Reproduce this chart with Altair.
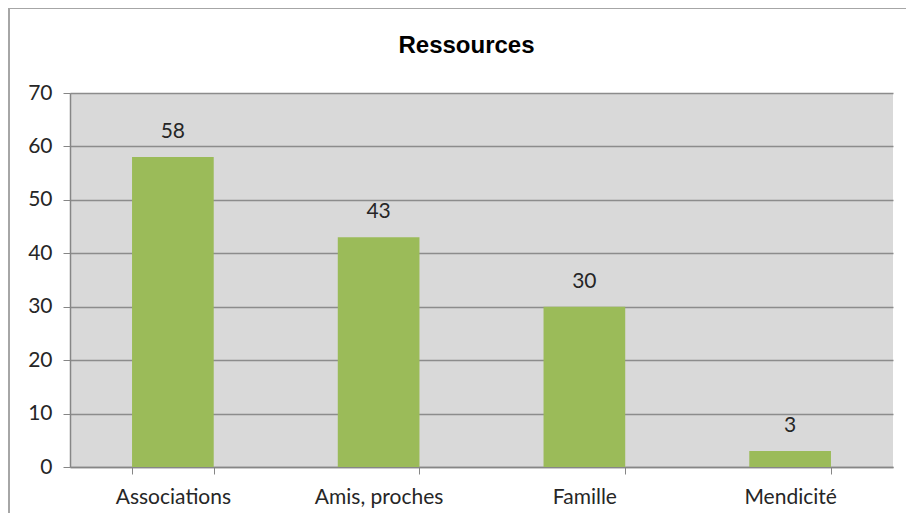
import altair as alt
import pandas as pd

categories = ["Associations", "Amis, proches", "Famille", "Mendicité"]
values = [58, 43, 30, 3]

df = pd.DataFrame({"cat": categories, "val": values})

W, H = 823, 374
FONT = "Lato"
LABEL_COLOR = "#262626"

base = alt.Chart(df)

bars = base.mark_bar(color="#9bbb59").encode(
    x=alt.X(
        "cat:N",
        sort=categories,
        title=None,
        scale=alt.Scale(paddingInner=0.603, paddingOuter=0.3015),
        axis=alt.Axis(
            labelAngle=0,
            labelFont=FONT,
            labelFontSize=21,
            labelColor=LABEL_COLOR,
            labelPadding=12,
            tickBand="extent",
            tickSize=7,
            tickColor="#868686",
            domainColor="#868686",
            domainWidth=1.5,
            grid=False,
        ),
    ),
    y=alt.Y(
        "val:Q",
        title=None,
        scale=alt.Scale(domain=[0, 70], nice=False),
        axis=alt.Axis(
            values=[0, 10, 20, 30, 40, 50, 60, 70],
            labelFont=FONT,
            labelFontSize=21,
            labelColor=LABEL_COLOR,
            labelPadding=11,
            tickSize=7,
            tickColor="#868686",
            domainColor="#868686",
            domainWidth=1.5,
            grid=True,
            gridColor="#8c8c8c",
            gridWidth=1.5,
        ),
    ),
)

text = base.mark_text(
    baseline="bottom", dy=-15, font=FONT, fontSize=21, color=LABEL_COLOR
).encode(
    x=alt.X("cat:N", sort=categories),
    y=alt.Y("val:Q"),
    text=alt.Text("val:Q"),
)

frame_data = alt.Data(values=[{"k": 1}])
frame_top = alt.Chart(frame_data).mark_rule(color="#a6a6a6", strokeWidth=2).encode(
    x=alt.value(-61), x2=alt.value(900), y=alt.value(-85)
)
frame_left = alt.Chart(frame_data).mark_rule(color="#a6a6a6", strokeWidth=2).encode(
    x=alt.value(-61), y=alt.value(-85), y2=alt.value(440)
)

chart = (
    alt.layer(frame_top, frame_left, bars, text)
    .properties(
        width=W,
        height=H,
        title=alt.TitleParams(
            "Ressources",
            font="Liberation Sans",
            fontSize=24,
            fontWeight="bold",
            color="#000000",
            anchor="middle",
            dx=-15,
            offset=-51,
        ),
        autosize=alt.AutoSizeParams(type="none"),
        padding={"left": 62, "top": 85, "right": 13, "bottom": 46},
        background="white",
    )
    .configure_view(fill="#d9d9d9", stroke=None)
)

chart.save("out.html", embed_options={"renderer": "svg", "actions": False})
